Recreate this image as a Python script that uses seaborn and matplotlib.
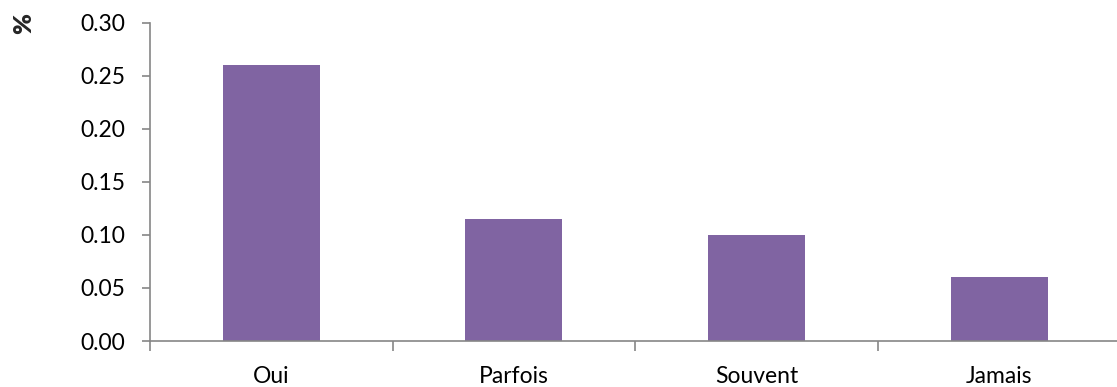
import matplotlib
matplotlib.use("Agg")
import matplotlib.pyplot as plt
import seaborn as sns
import pandas as pd
from matplotlib.ticker import FixedLocator, FixedFormatter

categories = ["Oui", "Parfois", "Souvent", "Jamais"]
values = [0.26, 0.115, 0.10, 0.06]
y_ticks = [0.00, 0.05, 0.10, 0.15, 0.20, 0.25, 0.30]

sns.set_theme(style="white")
plt.rcParams["font.family"] = ["Lato", "DejaVu Sans"]

df = pd.DataFrame({"cat": categories, "val": values})

fig = plt.figure(figsize=(11.17, 3.87), dpi=100)
ax = fig.add_axes([150 / 1117, 1 - 341 / 387, 1 - 150 / 1117 + 0.003, (341 - 22.5) / 387])

sns.barplot(data=df, x="cat", y="val", color="#8064A2", saturation=1, width=0.4,
            linewidth=0, ax=ax)

ax.set_xlim(-0.5, 3.5)
ax.set_ylim(0, 0.30)
ax.set_yticks(y_ticks)
ax.set_yticklabels([f"{t:.2f}" for t in y_ticks], fontsize=16.5, color="#000000")

# category labels at centres, tick marks at category boundaries
ax.xaxis.set_major_locator(FixedLocator([-0.5, 0.5, 1.5, 2.5, 3.5]))
ax.xaxis.set_major_formatter(FixedFormatter(["", "", "", "", ""]))
ax.xaxis.set_minor_locator(FixedLocator([0, 1, 2, 3]))
ax.xaxis.set_minor_formatter(FixedFormatter(categories))
ax.tick_params(axis="x", which="major", length=7, width=1.2, color="#868686", direction="out", bottom=True)
ax.tick_params(axis="x", which="minor", length=0, pad=18, labelsize=16.5, labelcolor="#000000", bottom=True)
ax.tick_params(axis="y", length=6, width=1.2, color="#868686", direction="out", pad=12, left=True)

for side in ["top", "right"]:
    ax.spines[side].set_visible(False)
for side in ["left", "bottom"]:
    ax.spines[side].set_color("#868686")
    ax.spines[side].set_linewidth(1.2)

ax.set_xlabel("")
ax.set_ylabel("")
fig.text(24 / 1117, 1 - 24 / 387, "%", rotation=90, fontsize=18, fontweight="heavy",
         ha="center", va="center")

fig.savefig("out.png", dpi=100)
